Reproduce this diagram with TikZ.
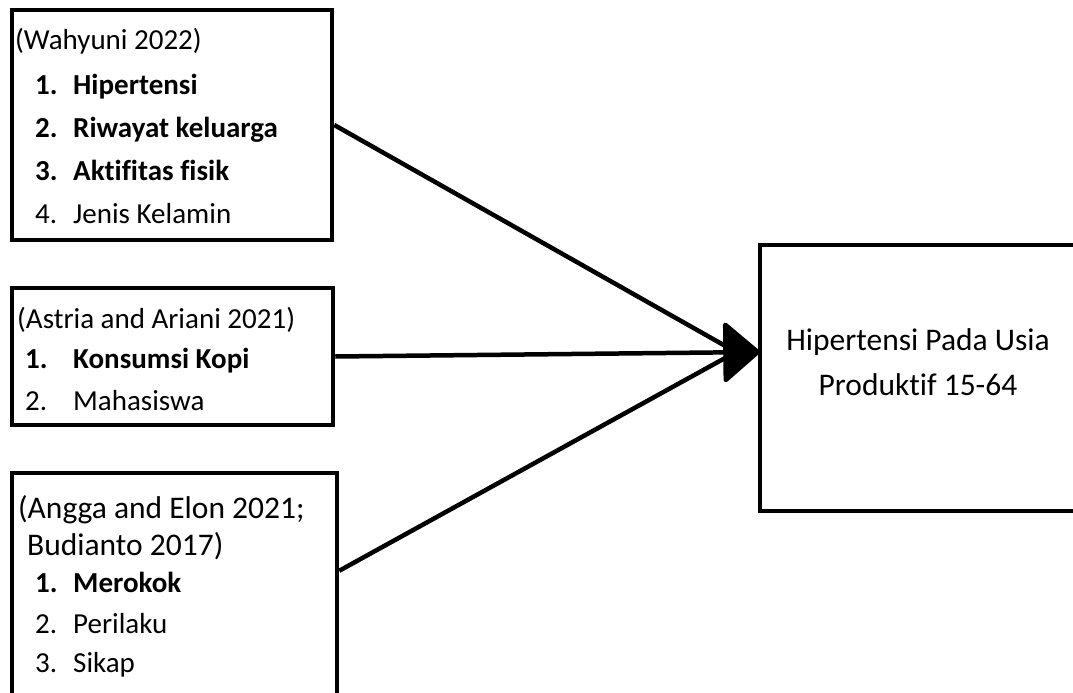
\documentclass[tikz,border=0pt]{standalone}
\usepackage{fontspec}
\setmainfont{Carlito}[Ligatures=NoCommon]
\usetikzlibrary{arrows.meta, calc}

\tikzset{
	kotak/.style={draw=black, line width=4.5pt, rectangle, inner sep=0pt},
	teks/.style={anchor=base west, inner sep=0pt, font=\fontsize{29}{35}\selectfont},
	teksbesar/.style={inner sep=0pt, font=\fontsize{31.5}{40}\selectfont},
	panah/.style={line width=4.5pt}
}
\newcommand{\butir}[2]{\makebox[#1][l]{#2}}

\begin{document}
\begin{tikzpicture}[x=1pt, y=-1pt]
	\useasboundingbox (0,0) rectangle (1073,693);
	
	%boxes
	\node[kotak, minimum width=320pt, minimum height=230pt] (wahyuni) at (172,125) {};
	\node[kotak, minimum width=321pt, minimum height=137pt] (astria) at (172.5,356.5) {};
	\node[kotak, minimum width=325pt, minimum height=260pt] (angga) at (174.5,603) {};
	\node[kotak, minimum width=318pt, minimum height=266pt] (hasil) at (919,378) {};
	
	%box 1
	\node[teks] (w0) at (15,50)  {(Wahyuni 2022)};
	\node[teks] (w1) at (35,94)  {\butir{38pt}{\textbf{1.}}\textbf{Hipertensi}};
	\node[teks] (w2) at (35,137) {\butir{38pt}{\textbf{2.}}\textbf{Riwayat keluarga}};
	\node[teks] (w3) at (35,180) {\butir{38pt}{\textbf{3.}}\textbf{Aktifitas fisik}};
	\node[teks] (w4) at (35,223) {\butir{38pt}{4.}Jenis Kelamin};
	
	%box 2
	\node[teks] (a0) at (17,328) {(Astria and Ariani 2021)};
	\node[teks] (a1) at (25,368) {\butir{48pt}{\textbf{1.}}\textbf{Konsumsi Kopi}};
	\node[teks] (a2) at (25,410) {\butir{48pt}{2.}Mahasiswa};
	
	%box 3
	\node[teks, font=\fontsize{31.5}{40}\selectfont] (g0) at (18,518) {(Angga and Elon 2021;};
	\node[teks, font=\fontsize{31.5}{40}\selectfont] (g1) at (27,555) {Budianto 2017)};
	\node[teks] (g2) at (35,592) {\butir{38pt}{\textbf{1.}}\textbf{Merokok}};
	\node[teks] (g3) at (35,633) {\butir{38pt}{2.}Perilaku};
	\node[teks] (g4) at (35,672) {\butir{38pt}{3.}Sikap};
	
	%box 4
	\node[teksbesar, anchor=base] (h1) at (918,350) {Hipertensi Pada Usia};
	\node[teksbesar, anchor=base] (h2) at (918,395) {Produktif 15-64};
	
	%arrows
	\coordinate (ujung) at (760,352);
	\draw[panah] (wahyuni.east) -- ($(ujung)+(-24,0)$);
	\draw[panah] ($(angga.north east)+(0,100)$) -- ($(ujung)+(-24,0)$);
	\draw[panah, -{Triangle[length=38pt, width=64pt, round]}] (astria.east) -- (ujung);
\end{tikzpicture}
\end{document}
